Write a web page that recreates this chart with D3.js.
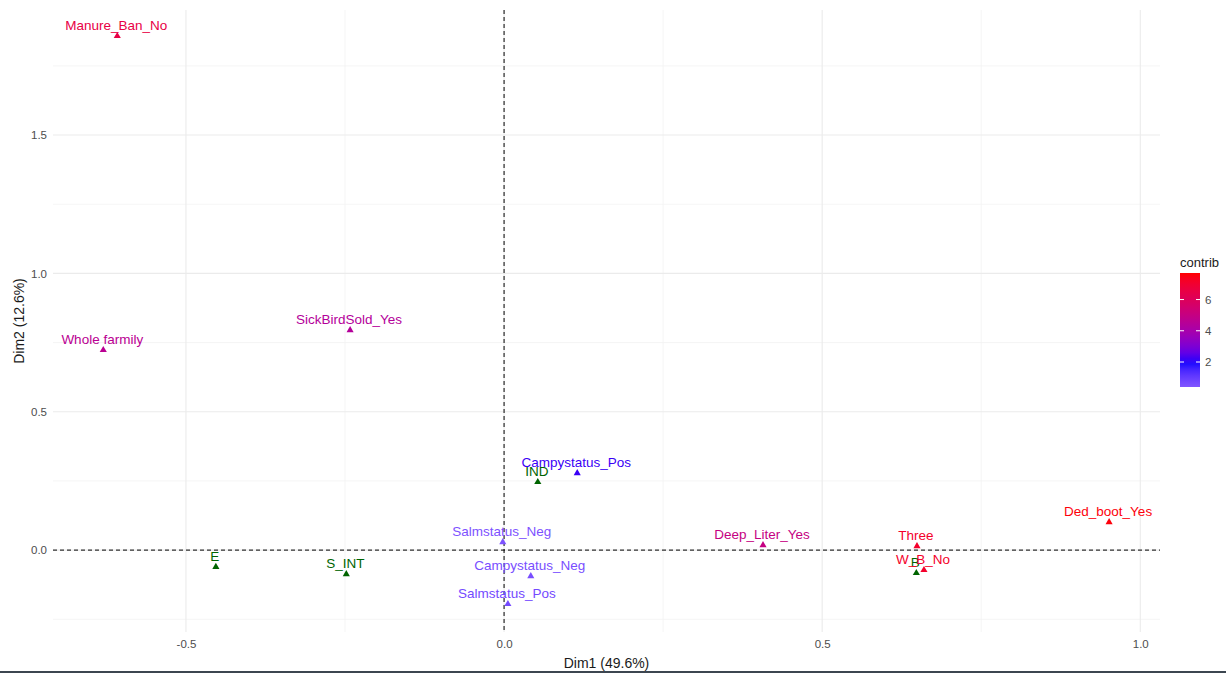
<!DOCTYPE html>
<html>
<head>
<meta charset="utf-8">
<script src="https://cdn.jsdelivr.net/npm/d3@7"></script>
<style>
  body { margin: 0; background: #fff; }
  text { font-family: "Liberation Sans", Arial, sans-serif; }
</style>
</head>
<body>
<div id="chart"></div>
<script>
// active categories
const actLabels = ["Manure_Ban_No", "Whole farmily", "SickBirdSold_Yes", "Campystatus_Pos", "Salmstatus_Neg",
    "Campystatus_Neg", "Salmstatus_Pos", "Deep_Liter_Yes", "Three", "W_B_No", "Ded_boot_Yes"];
const actDim1 = [-0.608, -0.630, -0.242, 0.115, -0.002, 0.042, 0.006, 0.407, 0.649, 0.660, 0.951];
const actDim2 = [1.858, 0.723, 0.795, 0.278, 0.029, -0.094, -0.195, 0.018, 0.014, -0.072, 0.101];
const actContrib = [6.5, 4.6, 4.4, 2.2, 0.5, 0.6, 0.7, 5.0, 7.1, 7.1, 7.6];

// supplementary categories
const supLabels = ["E", "S_INT", "IND", "B"];
const supDim1 = [-0.453, -0.248, 0.053, 0.648];
const supDim2 = [-0.061, -0.087, 0.246, -0.083];

const xTicks = [-0.5, 0, 0.5, 1.0];
const yTicks = [0, 0.5, 1.0, 1.5];
const legendTicks = [2, 4, 6];

const W = 1226, H = 673;
const panel = { left: 53, right: 1160, top: 10, bottom: 632 };

const svg = d3.select("#chart").append("svg")
    .attr("width", W)
    .attr("height", H);

const x = d3.scaleLinear().domain([-0.709, 1.031]).range([panel.left, panel.right]);
const y = d3.scaleLinear().domain([-0.296, 1.952]).range([panel.bottom, panel.top]);

// colour: gradient2 style white -> blue -> red, midpoint 2
const cmin = d3.min(actContrib) - 0.1, cmax = d3.max(actContrib) + 0.1;
const mid = 2;
const spread = Math.max(mid - cmin, cmax - mid);
const color = d3.scaleLinear()
    .domain([mid - spread, mid, mid + spread])
    .range(["white", "blue", "red"])
    .interpolate(d3.interpolateLab);

const fmt = d => d3.format(".1f")(d).replace("\u2212", "-");

// grid
const grid = svg.append("g");
const xMinor = [-0.25, 0.25, 0.75];
const yMinor = [-0.25, 0.25, 0.75, 1.25, 1.75];
grid.selectAll(".vminor").data(xMinor).enter().append("line")
    .attr("x1", d => x(d)).attr("x2", d => x(d))
    .attr("y1", panel.top).attr("y2", panel.bottom)
    .style("stroke", "#f3f3f3").style("stroke-width", 0.8);
grid.selectAll(".hminor").data(yMinor).enter().append("line")
    .attr("y1", d => y(d)).attr("y2", d => y(d))
    .attr("x1", panel.left).attr("x2", panel.right)
    .style("stroke", "#f3f3f3").style("stroke-width", 0.8);
grid.selectAll(".vmajor").data(xTicks).enter().append("line")
    .attr("x1", d => x(d)).attr("x2", d => x(d))
    .attr("y1", panel.top).attr("y2", panel.bottom)
    .style("stroke", "#ebebeb").style("stroke-width", 1.1);
grid.selectAll(".hmajor").data(yTicks).enter().append("line")
    .attr("y1", d => y(d)).attr("y2", d => y(d))
    .attr("x1", panel.left).attr("x2", panel.right)
    .style("stroke", "#ebebeb").style("stroke-width", 1.1);

// dashed zero lines
svg.append("line")
    .attr("x1", panel.left).attr("x2", panel.right)
    .attr("y1", y(0)).attr("y2", y(0))
    .style("stroke", "#000").style("stroke-width", 1).style("stroke-dasharray", "4,3");
svg.append("line")
    .attr("x1", x(0)).attr("x2", x(0))
    .attr("y1", panel.top).attr("y2", panel.bottom)
    .style("stroke", "#000").style("stroke-width", 1).style("stroke-dasharray", "4,3");

// axes
const xAxis = d3.axisBottom(x).tickValues(xTicks).tickFormat(fmt).tickSize(0).tickPadding(8);
const yAxis = d3.axisLeft(y).tickValues(yTicks).tickFormat(fmt).tickSize(0).tickPadding(6);

const gx = svg.append("g")
    .attr("transform", `translate(0, ${panel.bottom})`)
    .call(xAxis);
const gy = svg.append("g")
    .attr("transform", `translate(${panel.left}, 0)`)
    .call(yAxis);
[gx, gy].forEach(g => {
    g.select(".domain").remove();
    g.selectAll("text").style("fill", "#4d4d4d").style("font-size", "11.5px")
        .style("font-family", "'Liberation Sans', Arial, sans-serif");
});

svg.append("text")
    .attr("x", (panel.left + panel.right) / 2)
    .attr("y", 668)
    .attr("text-anchor", "middle")
    .style("font-size", "14px")
    .style("fill", "#1a1a1a")
    .text("Dim1 (49.6%)");

svg.append("text")
    .attr("transform", `translate(24, ${(panel.top + panel.bottom) / 2}) rotate(-90)`)
    .attr("text-anchor", "middle")
    .style("font-size", "14px")
    .style("fill", "#1a1a1a")
    .text("Dim2 (12.6%)");

// points
const tri = d3.symbol().type(d3.symbolTriangle).size(22);

const actData = actLabels.map((l, i) => ({ label: l, d1: actDim1[i], d2: actDim2[i], c: actContrib[i] }));
const supData = supLabels.map((l, i) => ({ label: l, d1: supDim1[i], d2: supDim2[i] }));

svg.selectAll(".sup-pt")
    .data(supData)
    .enter().append("path")
    .attr("d", tri)
    .attr("transform", d => `translate(${x(d.d1)}, ${y(d.d2)})`)
    .style("fill", "darkgreen");

svg.selectAll(".act-pt")
    .data(actData)
    .enter().append("path")
    .attr("d", tri)
    .attr("transform", d => `translate(${x(d.d1)}, ${y(d.d2)})`)
    .style("fill", d => color(d.c));

svg.selectAll(".sup-lab")
    .data(supData)
    .enter().append("text")
    .attr("x", d => x(d.d1) - 1)
    .attr("y", d => y(d.d2) - 6)
    .attr("text-anchor", "middle")
    .style("font-size", "13.5px")
    .style("fill", "darkgreen")
    .text(d => d.label);

svg.selectAll(".act-lab")
    .data(actData)
    .enter().append("text")
    .attr("x", d => x(d.d1) - 1)
    .attr("y", d => y(d.d2) - 6)
    .attr("text-anchor", "middle")
    .style("font-size", "13.5px")
    .style("fill", d => color(d.c))
    .text(d => d.label);

// legend
const lg = { x: 1180, top: 273, bottom: 387, w: 20 };
const ly = d3.scaleLinear().domain([cmin, cmax]).range([lg.bottom, lg.top]);

const defs = svg.append("defs");
const grad = defs.append("linearGradient")
    .attr("id", "contribGrad")
    .attr("x1", 0).attr("x2", 0).attr("y1", 1).attr("y2", 0);
d3.range(0, 21).forEach(i => {
    const v = cmin + (cmax - cmin) * i / 20;
    grad.append("stop").attr("offset", (i / 20 * 100) + "%").attr("stop-color", color(v));
});

svg.append("text")
    .attr("x", lg.x)
    .attr("y", 267)
    .style("font-size", "13px")
    .style("fill", "#1a1a1a")
    .text("contrib");

svg.append("rect")
    .attr("x", lg.x).attr("y", lg.top)
    .attr("width", lg.w).attr("height", lg.bottom - lg.top)
    .style("fill", "url(#contribGrad)");

const lt = svg.append("g");
lt.selectAll(".tl").data(legendTicks).enter().append("line")
    .attr("x1", lg.x).attr("x2", lg.x + 4)
    .attr("y1", d => ly(d)).attr("y2", d => ly(d))
    .style("stroke", "#fff").style("stroke-width", 1);
lt.selectAll(".tr").data(legendTicks).enter().append("line")
    .attr("x1", lg.x + lg.w - 4).attr("x2", lg.x + lg.w)
    .attr("y1", d => ly(d)).attr("y2", d => ly(d))
    .style("stroke", "#fff").style("stroke-width", 1);
lt.selectAll(".tt").data(legendTicks).enter().append("text")
    .attr("x", lg.x + lg.w + 5)
    .attr("y", d => ly(d))
    .attr("dy", "0.35em")
    .style("font-size", "11.5px")
    .style("fill", "#4d4d4d")
    .text(d => d);

// bottom frame edge
svg.append("rect")
    .attr("x", 0).attr("y", 671)
    .attr("width", W).attr("height", 2)
    .style("fill", "#3c4650");
</script>
</body>
</html>
